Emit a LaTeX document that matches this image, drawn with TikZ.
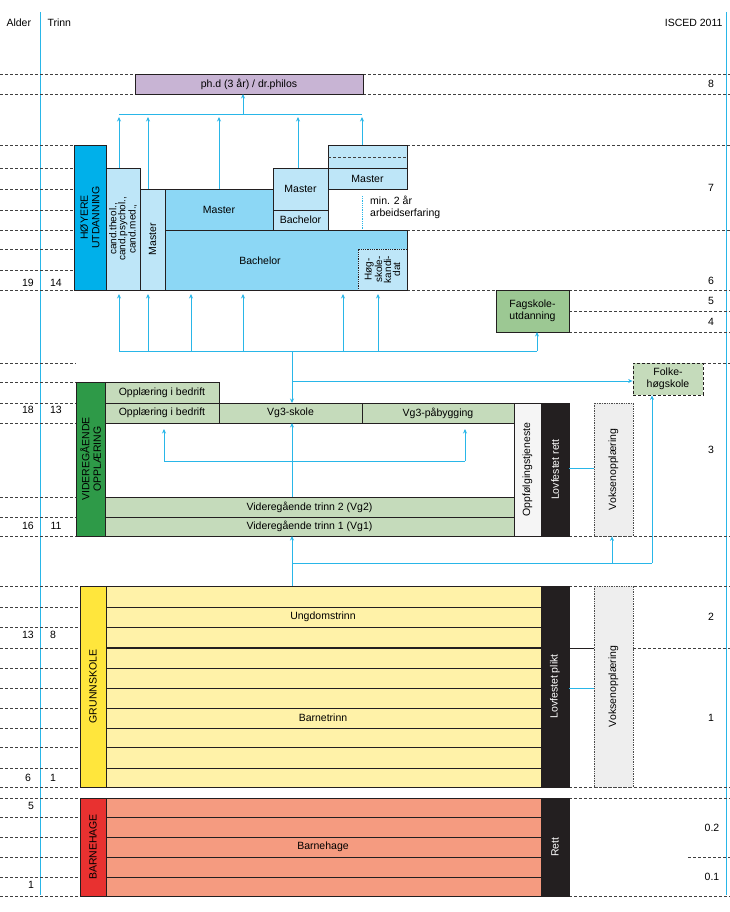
\documentclass[tikz,border=0pt]{standalone}
\usepackage{fontspec}
\setmainfont{Liberation Sans}
\usetikzlibrary{arrows.meta}
\definecolor{sky}{HTML}{29B6E8}
\definecolor{hcyan}{HTML}{00B0EA}
\definecolor{hmid}{HTML}{8CD7F5}
\definecolor{hlight}{HTML}{BEE6F8}
\definecolor{phd}{HTML}{C8B4D4}
\definecolor{gdark}{HTML}{2E9A48}
\definecolor{glight}{HTML}{C5DBBB}
\definecolor{gmid}{HTML}{9CC893}
\definecolor{ydark}{HTML}{FFE63C}
\definecolor{ylight}{HTML}{FFF2A8}
\definecolor{rdark}{HTML}{E83130}
\definecolor{rlight}{HTML}{F59B80}
\definecolor{blk}{HTML}{231F20}
\definecolor{pale}{HTML}{EEEEEE}
\newcommand\bx[7]{\node[#6, minimum width={(#4-#2)*1pt}, minimum height={(#5-#3)*1pt}] (#1) at ({(#2+#4)/2},{(#3+#5)/2}) {#7};}
\begin{document}
\begin{tikzpicture}[x=1pt,y=-1pt,
  font=\fontsize{10.5}{11.5}\selectfont,
  box/.style={draw=blk,line width=0.8pt,inner sep=0pt,outer sep=0pt,align=center},
  dl/.style={densely dashed,line width=0.7pt,draw=black!75},
  bl/.style={draw=sky,line width=0.8pt},
  ar/.style={bl,-{Stealth[length=4.5pt,width=4pt]}},
  rot/.style={rotate=90,align=center,inner sep=0pt}]
\useasboundingbox (0,0) rectangle (730,912);
% guide lines
\draw[bl] (40,12) -- (40,895);
\draw[bl] (726,12) -- (726,895);
\node[anchor=base west] (hA) at (3,27) {Alder};
\node[anchor=base west] (hT) at (44,27) {Trinn};
\node[anchor=base east] (hI) at (726,27) {ISCED 2011};
% dashed lines
\foreach \y in {74,94}{\draw[dl] (0,\y)--(135,\y); \draw[dl] (363,\y)--(730,\y);}
\foreach \y in {145,230}{\draw[dl] (407,\y)--(730,\y);}
\foreach \y in {145,168,189,210,230,249,270,290}{\draw[dl] (0,\y)--(74,\y);}
\draw[dl] (407,290)--(496,290);
\foreach \y in {290,311,332,536,586,787,798,896}{\draw[dl] (569,\y)--(730,\y);}
\draw[dl] (0,363)--(76,363); \draw[dl] (703,363)--(730,363);
\foreach \y in {382,403,423,497,517,536}{\draw[dl] (0,\y)--(76,\y);}
\foreach \y in {586,607,627,648,668,688,708,728,747,768,787,798,817,837,857,877,896}{\draw[dl] (0,\y)--(80,\y);}
\draw[dl] (633,648)--(730,648);
\draw[dl] (688,857)--(730,857);
% PhD
\bx{phd}{135}{74}{363}{94}{box,fill=phd}{ph.d (3 år) / dr.philos}
% Higher education
\bx{hoy}{74}{145}{106}{290}{box,fill=hcyan}{}
\node[rot] at (hoy.center) {HØYERE\\UTDANNING};
\bx{cand}{106}{168}{140}{290}{box,fill=hlight}{}
\node[rot,font=\fontsize{10}{9}\selectfont] at (cand.center) {cand.theol.,\\cand.psychol.,\\cand.med.,};
\bx{mast1}{140}{189}{165}{290}{box,fill=hlight}{}
\node[rot] at (mast1.center) {Master};
\bx{mast2}{165}{189}{273}{230}{box,fill=hmid}{Master}
\bx{bach}{165}{230}{407}{290}{box,fill=hmid}{}
\node (bachT) at (260,261) {Bachelor};
\bx{hogsk}{358}{249}{407}{290}{draw=blk,densely dotted,line width=0.8pt,inner sep=0pt,fill=hlight}{}
\node[rot,font=\fontsize{10}{9}\selectfont] at (hogsk.center) {Høg-\\skole-\\kandi-\\dat};
\bx{mast3}{273}{168}{328}{210}{box,fill=hlight}{Master}
\bx{bach3}{273}{210}{328}{230}{box,fill=hlight}{Bachelor}
\bx{top4}{328}{145}{407}{168}{box,fill=hlight}{}
\draw[dl] (328,157)--(407,157);
\bx{mast4}{328}{168}{407}{189}{box,fill=hlight}{Master}
\node[align=left,anchor=north west,inner sep=0pt] (erf) at (370,196) {min. 2 år\\arbeidserfaring};
\draw[bl,densely dotted] (362,196)--(362,230);
% to PhD
\coordinate (j1) at (243,114);
\draw[bl] (119,114)--(362,114);
\draw[ar] (j1) -- (phd.south -| j1);
\draw[ar] (cand.north -| 119,0) -- (119,117);
\draw[ar] (mast1.north -| 148,0) -- (148,117);
\draw[ar] (mast2.north -| 219,0) -- (219,117);
\draw[ar] (mast3.north -| 298,0) -- (298,117);
\draw[ar] (top4.north -| 362,0) -- (362,117);
% Fagskole
\bx{fag}{496}{290}{569}{332}{box,fill=gmid}{Fagskole-\\utdanning}
\bx{folk}{633}{363}{703}{395}{draw=blk,densely dashed,line width=0.8pt,inner sep=0pt,fill=glight,align=center}{Folke-\\høgskole}
% from VGO to higher
\coordinate (j2) at (292,351);
\draw[bl] (119,351)--(537,351);
\foreach \xx in {119,148,191,243,343,378}{\draw[ar] (\xx,351)--(\xx,294);}
\draw[ar] (537,351)--(fag.south -| 537,0);
% VGO
\bx{vgo}{76}{382}{105}{536}{box,fill=gdark}{}
\node[rot] at (vgo.center) {VIDEREGÅENDE\\OPPLÆRING};
\bx{vgframe}{105}{403}{514}{536}{box}{}
\bx{opb1}{105}{382}{219}{403}{box,fill=glight}{Opplæring i bedrift}
\bx{opb2}{105}{403}{219}{423}{box,fill=glight}{Opplæring i bedrift}
\bx{vg3s}{219}{403}{362}{423}{box,fill=glight}{Vg3-skole}
\bx{vg3p}{362}{403}{514}{423}{box,fill=glight}{Vg3-påbygging}
\bx{vg2}{105}{497}{514}{517}{box,fill=glight}{Videregående trinn 2 (Vg2)}
\bx{vg1}{105}{517}{514}{536}{box,fill=glight}{Videregående trinn 1 (Vg1)}
\bx{oppf}{514}{403}{541}{536}{box,fill=pale!60}{}
\node[rot] at (oppf.center) {Oppfølgingstjeneste};
\bx{lovr}{541}{403}{569}{536}{box,fill=blk}{}
\node[rot,text=white] at (lovr.center) {Lovfestet rett};
\bx{voks1}{594}{403}{633}{536}{draw=black!70,densely dotted,line width=0.7pt,inner sep=0pt,fill=pale}{}
\node[rot] at (voks1.center) {Voksenopplæring};
\draw[bl] (lovr.east |- 0,468) -- (voks1.west |- 0,468);
\draw[ar] (j2) -- (vg3s.north -| j2);
\draw[ar] (292,381) -- (folk.west |- 0,381);
\draw[bl] (292,351) -- (292,381);
\draw[ar] (vg2.north -| 292,0) -- (vg3s.south -| 292,0);
\draw[bl] (164,461)--(465,461);
\draw[ar] (164,461)--(164,429);
\draw[ar] (465,461)--(465,429);
% Grunnskole
\bx{grs}{80}{586}{106}{787}{box,fill=ydark}{}
\node[rot] at (grs.center) {GRUNNSKOLE};
\bx{grbox}{106}{586}{541}{787}{box,fill=ylight}{}
\foreach \y in {607,627,668,688,708,728,747,768}{\draw[blk,line width=0.8pt] (106,\y)--(541,\y);}
\draw[blk,line width=1.6pt] (106,648)--(541,648);
\node (ung) at (323,617) {Ungdomstrinn};
\node (barn) at (323,718) {Barnetrinn};
\bx{lovp}{541}{586}{569}{787}{box,fill=blk}{}
\node[rot,text=white] at (lovp.center) {Lovfestet plikt};
\bx{voks2}{594}{586}{633}{787}{draw=black!70,densely dotted,line width=0.7pt,inner sep=0pt,fill=pale}{}
\node[rot] at (voks2.center) {Voksenopplæring};
\draw[blk,line width=0.8pt] (lovp.east |- 0,648) -- (voks2.west |- 0,648);
\draw[bl] (lovp.east |- 0,688) -- (voks2.west |- 0,688);
\coordinate (j3) at (292,563);
\draw[ar] (grbox.north -| j3) -- (vg1.south -| j3);
\draw[bl] (292,563)--(652,563);
\draw[ar] (612,563) -- (voks1.south -| 612,0);
\draw[ar] (652,563) -- (folk.south -| 652,0);
% Barnehage
\bx{bhs}{80}{798}{106}{896}{box,fill=rdark}{}
\node[rot] at (bhs.center) {BARNEHAGE};
\bx{bhbox}{106}{798}{541}{896}{box,fill=rlight}{}
\foreach \y in {817,837,857,877}{\draw[blk,line width=0.8pt] (106,\y)--(541,\y);}
\node (bh) at (323,847) {Barnehage};
\bx{rett}{541}{798}{569}{896}{box,fill=blk}{}
\node[rot,text=white] at (rett.center) {Rett};
% ages
\foreach \t/\xx/\y in {19/28/283,14/56/283,18/28/410,13/56/410,16/28/526,11/56/526,13/28/635,8/53/635,6/28/778,1/53/778,5/31/806,1/31/885}{\node at (\xx,\y) {\t};}
\foreach \t/\y in {8/84,7/188,6/281,5/301,4/322,3/450,2/617,1/718}{\node at (711,\y) {\t};}
\node at (712,828) {0.2};
\node at (712,877) {0.1};
\end{tikzpicture}
\end{document}
